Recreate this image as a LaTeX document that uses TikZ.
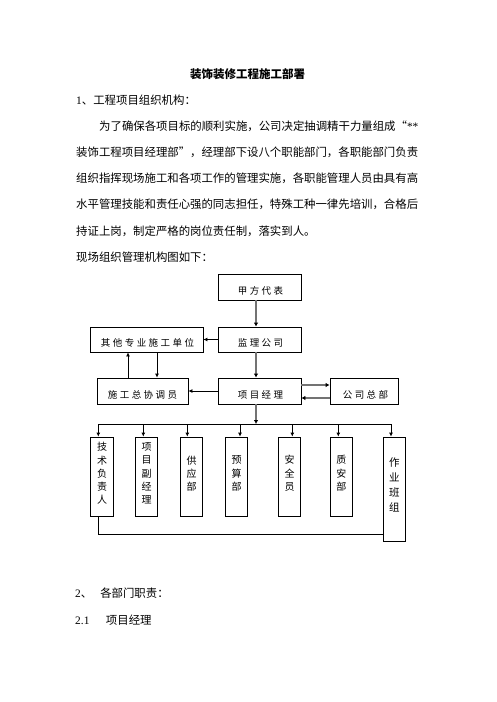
\documentclass[tikz,border=0pt]{standalone}
\usepackage{fontspec}
\setmainfont{Liberation Serif}
\newfontfamily\cjk{Noto Sans CJK SC}
\newfontfamily\cjkw[LetterSpace=26]{Noto Sans CJK SC}
\usetikzlibrary{arrows.meta,calc}
\begin{document}
\begin{tikzpicture}[x=1pt,y=-1pt,
  box/.style={draw,line width=0.8pt,inner sep=0pt},
  lbl/.style={inner sep=0pt,font=\cjkw\fontsize{9.5}{11}\selectfont},
  vlbl/.style={inner sep=0pt,align=center,font=\cjk\fontsize{10}{13.3}\selectfont},
  body/.style={inner sep=0pt,anchor=west,font=\cjk\fontsize{11.4}{13}\selectfont},
  arr/.style={line width=0.8pt,draw=black,-{Latex[length=4pt,width=4pt]}},
  garr/.style={line width=1.2pt,draw=black!55,-{Latex[length=4pt,width=4.5pt,color=black,fill=black]}},
  ln/.style={line width=0.8pt,draw=black}]
\fill[white] (0,0) rectangle (496,702);
\path[use as bounding box] (0,0) rectangle (496,702);

% text
\node[inner sep=0pt,font=\cjk\bfseries\fontsize{11.5}{13}\selectfont] (title) at (247.5,74) {装饰装修工程施工部署};
\node[body] (h1) at (76,100) {{\rmfamily 1}、工程项目组织机构：};
\node[body] (p1) at (99,126) {为了确保各项目标的顺利实施，公司决定抽调精干力量组成“{\rmfamily **}};
\node[body] (p2) at (76,152) {装饰工程项目经理部”，经理部下设八个职能部门，各职能部门负责};
\node[body] (p3) at (76,178) {组织指挥现场施工和各项工作的管理实施，各职能管理人员由具有高};
\node[body] (p4) at (76,204) {水平管理技能和责任心强的同志担任，特殊工种一律先培训，合格后};
\node[body] (p5) at (76,231) {持证上岗，制定严格的岗位责任制，落实到人。};
\node[body] (p6) at (76,257) {现场组织管理机构图如下：};
\node[body] (h2) at (75,593) {{\rmfamily 2}、\hspace{8pt}各部门职责：};
\node[body] (h21) at (75,620) {{\rmfamily 2.1}\hspace{16.5pt}项目经理};

% upper boxes
\node[box,minimum width=83pt,minimum height=26pt] (jf) at (259.5,287) {};
\node[lbl] (jft) at (260.5,290.5) {甲方代表};
\node[box,minimum width=83pt,minimum height=25pt] (jl) at (259.5,339.5) {};
\node[lbl] (jlt) at (260.5,342.5) {监理公司};
\node[box,minimum width=113pt,minimum height=25pt] (qt) at (146.5,339.5) {};
\node[lbl] (qtt) at (147.5,342.5) {其他专业施工单位};
\node[box,minimum width=91pt,minimum height=26pt] (sg) at (142.5,391) {};
\node[lbl] (sgt) at (142.5,394.5) {施工总协调员};
\node[box,minimum width=83pt,minimum height=26pt] (xm) at (259.5,391) {};
\node[lbl] (xmt) at (260.5,394.5) {项目经理};
\node[box,minimum width=68pt,minimum height=26pt] (gs) at (364,391) {};
\node[lbl] (gst) at (365.5,394.5) {公司总部};

% lower boxes
\node[box,minimum width=23.5pt,minimum height=79pt] (js) at (102,476.5) {};
\node[vlbl] (jst) at (102,473.5) {技\\术\\负\\责\\人};
\node[box,minimum width=22.5pt,minimum height=79pt] (fj) at (146.5,476.5) {};
\node[vlbl] (fjt) at (146.5,473.5) {项\\目\\副\\经\\理};
\node[box,minimum width=22.5pt,minimum height=79pt] (gy) at (191.5,476.5) {};
\node[vlbl] (gyt) at (191.5,473.5) {供\\应\\部};
\node[box,minimum width=22.5pt,minimum height=79pt] (ys) at (236.5,476.5) {};
\node[vlbl] (yst) at (236.5,473.5) {预\\算\\部};
\node[box,minimum width=22.5pt,minimum height=79pt] (aq) at (289.5,476.5) {};
\node[vlbl] (aqt) at (289.5,473.5) {安\\全\\员};
\node[box,minimum width=22.5pt,minimum height=79pt] (za) at (341.3,476.5) {};
\node[vlbl] (zat) at (341.3,473.5) {质\\安\\部};
\node[box,minimum width=22pt,minimum height=104pt] (zy) at (394.3,489) {};
\node[vlbl,font=\cjk\fontsize{10.5}{15}\selectfont] (zyt) at (394.3,485) {作\\业\\班\\组};

% helper coordinates
\coordinate (vx) at (256,0);
\coordinate (c1) at (157,0);
\coordinate (c2) at (128,0);
\coordinate (r1) at (0,385);
\coordinate (r2) at (0,398);
\coordinate (bus) at (0,424);
\coordinate (bl) at (0,534.3);
\coordinate (d1) at (98.3,0);
\coordinate (d2) at (143.3,0);
\coordinate (d3) at (187.3,0);
\coordinate (d4) at (240,0);
\coordinate (d5) at (292.3,0);
\coordinate (d6) at (338.3,0);
\coordinate (d7) at (391,0);

% connectors
\draw[garr] (vx |- jf.south) -- (vx |- jl.north);
\draw[arr] (jl.west) -- (qt.east);
\draw[arr] (c1 |- qt.south) -- (c1 |- sg.north);
\draw[arr] (c2 |- sg.north) -- (c2 |- qt.south);
\draw[garr] (vx |- jl.south) -- (vx |- xm.north);
\draw[arr] (xm.west) -- (sg.east);
\draw[garr] (xm.east |- r1) -- (gs.west |- r1);
\draw[garr] (gs.west |- r2) -- (xm.east |- r2);
\draw[garr] (vx |- xm.south) -- (vx |- bus);
\draw[ln] (d1 |- bus) -- (d7 |- bus);
\draw[arr] (d1 |- bus) -- (d1 |- js.north);
\draw[arr] (d2 |- bus) -- (d2 |- fj.north);
\draw[arr] (d3 |- bus) -- (d3 |- gy.north);
\draw[arr] (d4 |- bus) -- (d4 |- ys.north);
\draw[arr] (d5 |- bus) -- (d5 |- aq.north);
\draw[arr] (d6 |- bus) -- (d6 |- za.north);
\draw[arr] (d7 |- bus) -- (d7 |- zy.north);
\draw[ln] (d1 |- js.south) -- (d1 |- bl) -- (zy.west |- bl);
\end{tikzpicture}
\end{document}
